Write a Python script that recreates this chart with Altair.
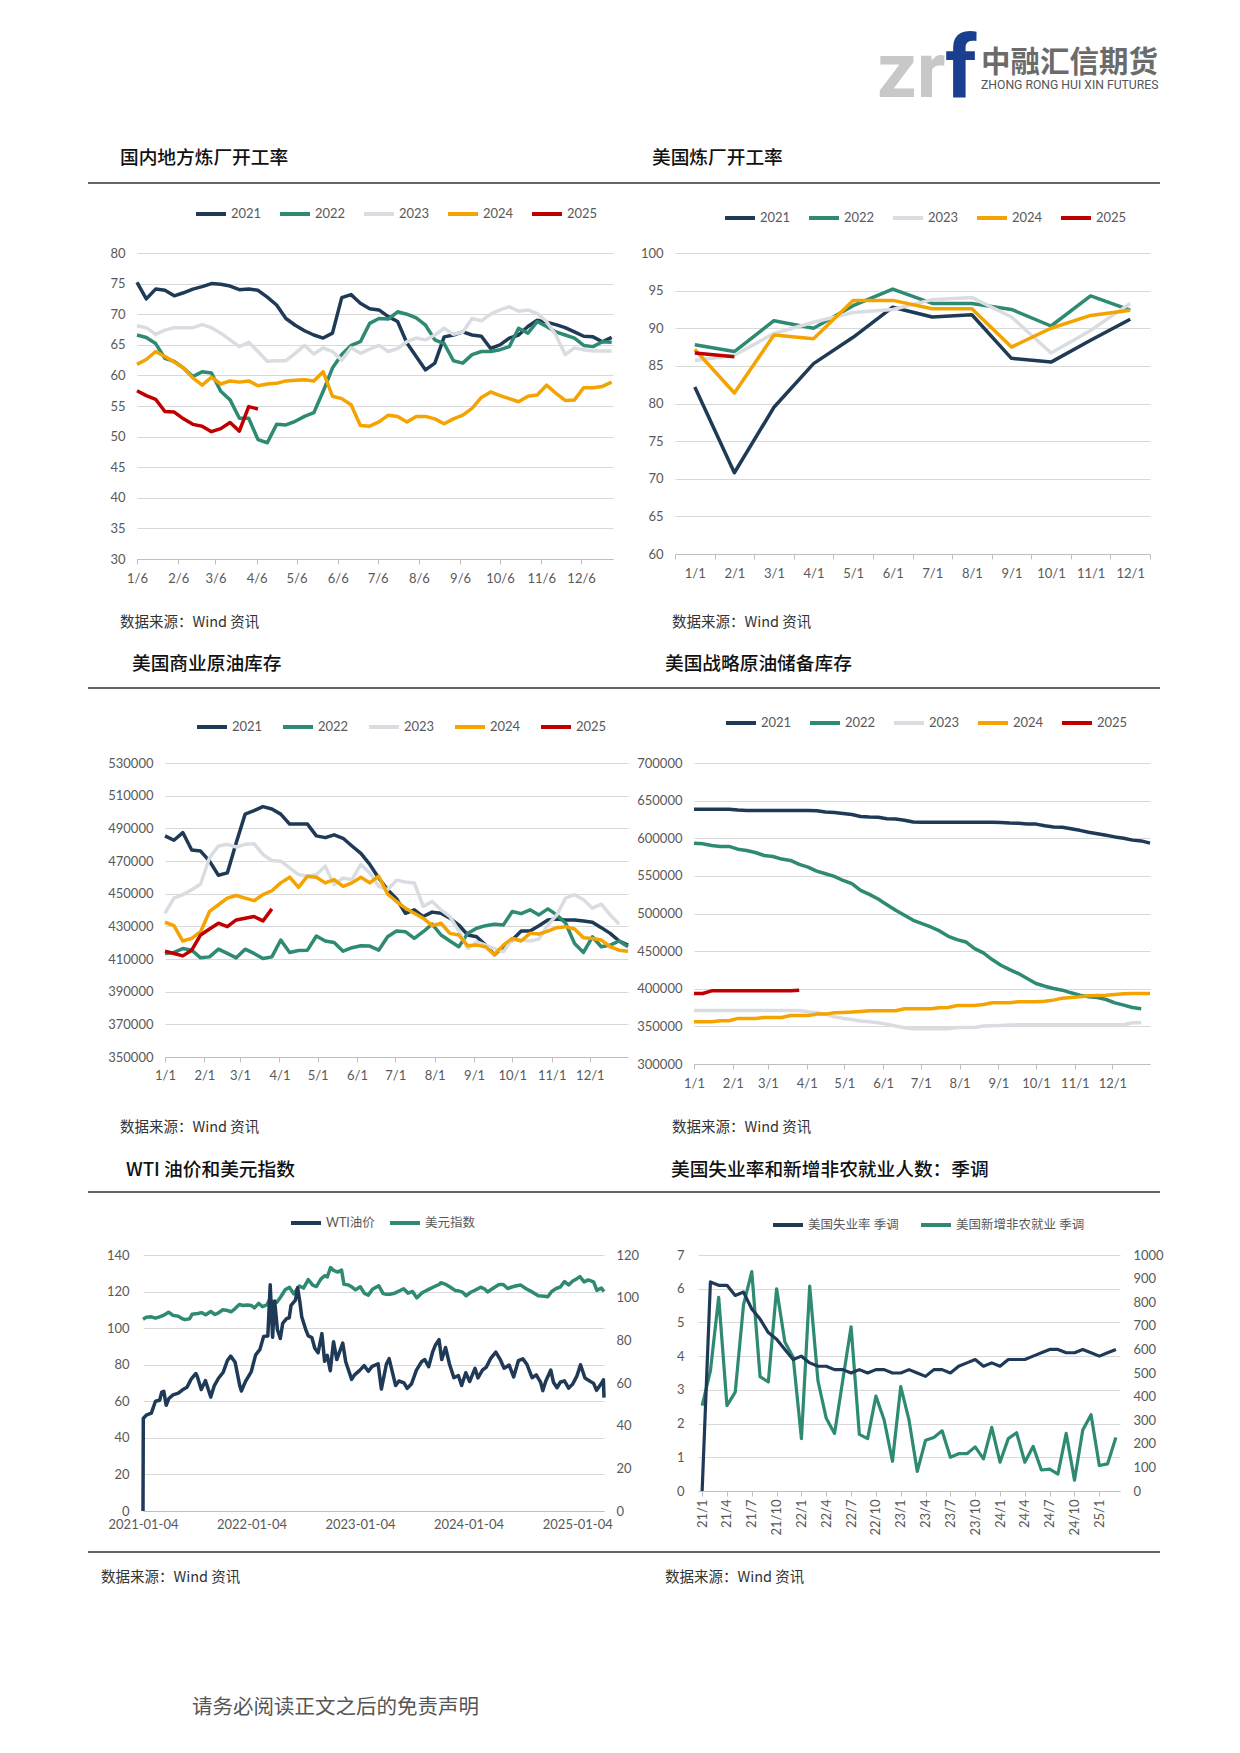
import altair as alt
import pandas as pd

# ---------------- data ----------------
YEARS = ["2021", "2022", "2023", "2024", "2025"]

# 国内地方炼厂开工率 (weekly, from 1/6)
C1_2021 = [75.2, 72.5, 74.1, 73.9, 73.0, 73.5, 74.1, 74.5, 75.0, 74.9, 74.6, 74.0, 74.1, 73.9, 72.8, 71.5, 69.3, 68.2,
           67.3, 66.6, 66.1, 66.9, 72.7, 73.2, 71.8, 70.9, 70.7, 69.6, 68.8, 65.3, 63.1, 60.9, 62.0, 66.3, 66.6, 67.1,
           66.6, 66.4, 64.4, 65.0, 66.1, 66.6, 68.0, 69.0, 68.7, 68.3, 67.8, 67.1, 66.4, 66.3, 65.5, 66.2]
C1_2022 = [66.6, 66.2, 65.2, 62.8, 62.3, 61.2, 59.8, 60.6, 60.4, 57.4, 56.0, 53.0, 53.0, 49.5, 49.0, 52.0, 51.9, 52.5,
           53.3, 53.9, 57.4, 61.2, 63.4, 64.9, 65.5, 68.5, 69.3, 69.2, 70.4, 70.0, 69.4, 68.2, 65.8, 65.2, 62.4, 62.0,
           63.4, 63.9, 63.9, 64.2, 64.7, 67.7, 66.9, 68.8, 68.0, 67.1, 66.6, 66.1, 64.9, 64.7, 65.5, 65.4]
C1_2023 = [68.1, 67.8, 66.7, 67.4, 67.8, 67.8, 67.8, 68.3, 67.8, 66.9, 65.8, 64.7, 65.4, 63.9, 62.3, 62.4, 62.4, 63.6,
           64.9, 63.5, 64.5, 63.9, 62.5, 64.5, 63.6, 64.3, 64.9, 63.9, 64.4, 65.5, 66.1, 65.8, 66.6, 67.7, 66.7, 67.1,
           69.3, 68.9, 70.0, 70.7, 71.2, 70.5, 70.7, 70.1, 68.8, 66.6, 63.4, 64.5, 64.2, 64.0, 64.0, 64.0]
C1_2024 = [61.8, 62.6, 63.9, 63.1, 62.2, 61.2, 59.6, 58.4, 59.7, 58.6, 59.1, 58.9, 59.1, 58.3, 58.6, 58.7, 59.1, 59.2,
           59.3, 59.1, 60.6, 56.6, 56.2, 55.2, 51.8, 51.7, 52.4, 53.5, 53.3, 52.4, 53.3, 53.3, 52.9, 52.1, 52.9, 53.5,
           54.6, 56.4, 57.3, 56.7, 56.2, 55.7, 56.6, 56.8, 58.4, 57.1, 55.9, 56.0, 58.0, 58.0, 58.2, 58.9]
C1_2025 = [57.5, 56.7, 56.1, 54.1, 54.0, 52.9, 52.0, 51.7, 50.8, 51.3, 52.3, 50.9, 54.9, 54.5]
C1_TICKS = [5, 36, 64, 95, 125, 156, 186, 217, 248, 278, 309, 339]
C1_LABELS = ["1/6", "2/6", "3/6", "4/6", "5/6", "6/6", "7/6", "8/6", "9/6", "10/6", "11/6", "12/6"]

# 美国炼厂开工率 (monthly)
C2_MONTHS = ["1/1", "2/1", "3/1", "4/1", "5/1", "6/1", "7/1", "8/1", "9/1", "10/1", "11/1", "12/1"]
C2_2021 = [82.2, 70.8, 79.5, 85.3, 88.8, 92.8, 91.5, 91.8, 86.0, 85.5, 88.4, 91.2]
C2_2022 = [87.8, 86.9, 91.0, 90.0, 93.0, 95.2, 93.3, 93.3, 92.5, 90.3, 94.3, 92.4]
C2_2023 = [85.7, 86.4, 89.3, 90.8, 92.1, 92.5, 93.8, 94.1, 91.5, 86.7, 89.7, 93.3]
C2_2024 = [87.2, 81.4, 89.1, 88.6, 93.7, 93.7, 92.6, 92.6, 87.5, 90.0, 91.7, 92.4]
C2_2025 = [86.7, 86.2]

# 美国商业原油库存 (weekly, thousand barrels /1000)
C3_2021 = [485.4, 482.7, 487.4, 476.7, 476.1, 469.9, 461.3, 462.7, 481.2, 498.7, 500.8, 503.3, 501.8, 498.7, 492.6,
           492.6, 492.6, 485.4, 484.3, 486.0, 483.9, 479.2, 474.7, 467.9, 459.6, 452.4, 446.9, 438.0, 440.1, 436.0,
           438.7, 438.0, 435.0, 430.8, 424.7, 423.6, 418.5, 412.7, 417.5, 421.6, 427.1, 427.1, 430.4, 433.9, 434.5,
           433.9, 433.9, 433.3, 432.5, 429.2, 425.7, 421.0, 418.5]
C3_2022 = [413.4, 414.0, 416.4, 415.4, 410.7, 411.3, 416.0, 413.4, 410.7, 416.0, 413.4, 410.3, 411.3, 421.6, 414.0,
           415.2, 415.4, 424.1, 421.0, 420.1, 414.8, 416.9, 418.1, 417.9, 415.4, 423.6, 427.1, 426.7, 422.6, 426.7,
           431.3, 424.7, 421.0, 417.5, 425.7, 428.8, 430.4, 431.3, 430.8, 439.1, 437.8, 440.1, 437.0, 440.7, 437.0,
           431.9, 419.5, 414.0, 423.6, 417.5, 418.5, 421.0, 417.5]
C3_2023 = [438.0, 447.3, 449.4, 452.4, 455.9, 472.0, 479.2, 480.2, 478.6, 480.2, 480.6, 474.0, 470.3, 469.9, 465.8,
           461.7, 460.7, 461.7, 466.8, 455.5, 459.6, 458.6, 467.9, 462.7, 454.5, 452.4, 458.2, 457.2, 456.6, 442.2,
           445.2, 440.1, 436.0, 427.1, 416.4, 420.5, 418.5, 416.4, 414.4, 422.2, 421.6, 421.0, 422.2, 430.8, 437.0,
           447.3, 449.4, 446.3, 441.1, 443.6, 437.0, 431.3]
C3_2024 = [432.5, 430.4, 421.0, 422.6, 426.7, 439.1, 443.2, 447.3, 448.9, 447.3, 445.7, 449.4, 451.8, 456.6, 460.1,
           453.9, 460.7, 460.1, 456.6, 458.6, 454.5, 456.6, 460.1, 456.6, 460.7, 449.8, 445.2, 441.1, 438.0, 435.0,
           430.4, 431.9, 425.7, 424.7, 418.1, 418.5, 417.5, 412.7, 418.5, 422.6, 421.0, 425.7, 425.3, 427.1, 429.2,
           429.8, 428.4, 423.0, 422.6, 421.6, 417.5, 415.4, 414.8]
C3_2025 = [414.8, 413.4, 411.9, 415.4, 424.7, 428.4, 431.9, 429.8, 433.9, 435.0, 436.0, 433.3, 440.7]

# 美国战略原油储备库存 (weekly, /1000)
C4_2021 = [638.6, 638.6, 638.6, 638.6, 638.6, 637.5, 636.8, 636.8, 636.8, 636.8, 636.8, 636.8, 636.8, 636.8, 636.5,
           634.8, 634.2, 633.0, 631.5, 628.8, 628.2, 628.0, 626.0, 625.5, 624.0, 621.5, 621.3, 621.3, 621.3, 621.3,
           621.3, 621.3, 621.3, 621.3, 621.3, 621.0, 620.2, 619.8, 619.0, 618.8, 616.5, 615.0, 614.7, 612.5, 610.5,
           608.0, 606.0, 604.0, 601.8, 600.0, 597.5, 596.5, 593.5]
C4_2022 = [593.5, 592.6, 590.4, 589.1, 589.1, 585.5, 583.8, 581.1, 577.1, 575.8, 572.3, 570.5, 565.2, 561.7, 556.4,
           552.8, 549.3, 543.9, 539.6, 530.7, 525.4, 519.2, 511.7, 504.2, 497.6, 490.9, 486.5, 482.1, 476.8, 469.7,
           465.3, 462.2, 453.4, 447.6, 438.8, 431.3, 425.5, 420.2, 413.6, 407.0, 403.4, 400.3, 398.1, 394.6, 391.5,
           389.3, 388.4, 385.7, 381.3, 378.2, 375.1, 373.4]
C4_2023 = [371.2, 371.2, 371.2, 371.2, 371.2, 371.2, 371.2, 371.2, 371.2, 371.2, 371.2, 371.2, 371.2, 369.4, 368.1,
           366.3, 362.8, 360.6, 359.2, 357.0, 356.1, 354.8, 353.0, 350.4, 348.2, 346.8, 346.8, 346.8, 346.8, 346.8,
           348.6, 348.6, 348.6, 350.4, 350.8, 351.3, 351.7, 352.2, 352.2, 352.2, 352.2, 352.2, 352.2, 352.2, 352.2,
           352.2, 352.2, 352.2, 352.2, 352.2, 354.8, 354.8]
C4_2024 = [356.1, 356.1, 356.1, 357.5, 357.5, 360.6, 360.6, 360.6, 361.9, 361.9, 361.9, 364.5, 364.5, 364.5, 366.3,
           366.3, 368.1, 368.5, 369.0, 369.8, 370.7, 370.7, 370.7, 370.7, 373.4, 373.4, 373.4, 373.4, 374.7, 375.1,
           377.8, 377.8, 377.8, 379.1, 381.3, 381.3, 381.3, 382.7, 382.7, 382.7, 383.5, 384.9, 387.5, 388.4, 389.3,
           390.6, 391.1, 391.5, 392.4, 393.3, 393.7, 393.7, 393.7]
C4_2025 = [393.7, 393.7, 397.2, 397.2, 397.2, 397.2, 397.2, 397.2, 397.2, 397.2, 397.2, 397.2, 398.1]
MONTH_TICKS = [0, 31, 59, 90, 120, 151, 181, 212, 243, 273, 304, 334]

# WTI油价 / 美元指数
WTI_DATES = ["2021-01-04", "2021-01-05", "2021-01-15", "2021-02-01", "2021-02-15", "2021-03-01", "2021-03-08",
             "2021-03-15", "2021-03-23", "2021-04-01", "2021-04-15", "2021-05-03", "2021-05-17", "2021-06-01",
             "2021-06-15", "2021-07-01", "2021-07-06", "2021-07-19", "2021-08-02", "2021-08-20", "2021-09-01",
             "2021-09-15", "2021-10-01", "2021-10-15", "2021-10-26", "2021-11-10", "2021-11-26", "2021-12-01",
             "2021-12-15", "2022-01-03", "2022-01-18", "2022-02-01", "2022-02-14", "2022-02-28", "2022-03-08",
             "2022-03-16", "2022-03-23", "2022-04-01", "2022-04-11", "2022-04-19", "2022-05-02", "2022-05-11",
             "2022-05-17", "2022-06-01", "2022-06-08", "2022-06-15", "2022-06-22", "2022-07-05", "2022-07-14",
             "2022-07-26", "2022-08-05", "2022-08-16", "2022-08-29", "2022-09-07", "2022-09-16", "2022-09-26",
             "2022-10-07", "2022-10-18", "2022-11-07", "2022-11-17", "2022-12-07", "2022-12-16", "2023-01-03",
             "2023-01-18", "2023-02-01", "2023-02-14", "2023-03-06", "2023-03-17", "2023-04-03", "2023-04-12",
             "2023-05-04", "2023-05-15", "2023-06-01", "2023-06-12", "2023-06-26", "2023-07-13", "2023-07-31",
             "2023-08-10", "2023-08-23", "2023-09-05", "2023-09-15", "2023-09-27", "2023-10-06", "2023-10-19",
             "2023-11-01", "2023-11-16", "2023-12-01", "2023-12-12", "2023-12-26", "2024-01-08", "2024-01-26",
             "2024-02-05", "2024-02-20", "2024-03-04", "2024-03-19", "2024-04-05", "2024-04-19", "2024-05-03",
             "2024-05-20", "2024-06-04", "2024-06-20", "2024-07-05", "2024-07-19", "2024-08-05", "2024-08-19",
             "2024-09-03", "2024-09-10", "2024-09-20", "2024-10-07", "2024-10-16", "2024-10-28", "2024-11-08",
             "2024-11-22", "2024-12-06", "2024-12-20", "2025-01-03", "2025-01-15", "2025-01-30", "2025-02-12",
             "2025-02-28", "2025-03-10", "2025-03-26", "2025-04-02", "2025-04-04"]
WTI_VALUES = [0, 50.6, 52.4, 53.5, 60.0, 60.6, 65.0, 65.4, 57.8, 61.5, 63.5, 64.5, 66.3, 67.7, 72.1, 75.2, 73.4, 66.4,
              71.3, 62.3, 68.6, 72.6, 75.9, 82.3, 84.7, 81.3, 68.2, 65.6, 70.9, 76.1, 85.4, 88.2, 95.5, 95.7, 123.7,
              95.0, 114.9, 99.3, 94.3, 102.6, 105.2, 105.7, 112.4, 115.3, 122.1, 115.3, 106.2, 99.5, 95.8, 94.9, 89.0,
              86.5, 97.0, 81.9, 85.1, 76.7, 92.6, 82.8, 91.8, 81.6, 72.0, 74.3, 76.9, 79.5, 76.4, 79.1, 80.5, 66.7,
              80.4, 83.3, 68.6, 71.1, 70.1, 67.1, 69.4, 77.0, 81.8, 82.8, 78.9, 86.7, 90.8, 93.7, 82.8, 89.4, 80.4,
              72.9, 74.1, 68.6, 75.6, 70.8, 78.0, 72.8, 77.0, 78.7, 83.5, 86.9, 83.1, 78.1, 79.8, 73.3, 82.2, 83.2,
              80.1, 72.9, 74.4, 70.3, 65.8, 71.0, 77.1, 70.4, 67.4, 70.4, 71.2, 67.2, 69.5, 73.9, 80.0, 72.7, 71.4,
              69.8, 66.0, 69.7, 71.7, 62.0]
DXY_DATES = ["2021-01-04", "2021-01-15", "2021-02-01", "2021-02-15", "2021-03-01", "2021-03-15", "2021-03-31",
             "2021-04-15", "2021-05-03", "2021-05-14", "2021-05-25", "2021-06-10", "2021-06-18", "2021-07-07",
             "2021-07-20", "2021-08-03", "2021-08-20", "2021-09-03", "2021-09-15", "2021-09-30", "2021-10-15",
             "2021-10-28", "2021-11-10", "2021-11-24", "2021-12-07", "2021-12-20", "2022-01-04", "2022-01-14",
             "2022-01-28", "2022-02-10", "2022-02-25", "2022-03-07", "2022-03-17", "2022-03-30", "2022-04-12",
             "2022-04-28", "2022-05-12", "2022-05-26", "2022-06-14", "2022-06-28", "2022-07-14", "2022-07-29",
             "2022-08-10", "2022-08-26", "2022-09-07", "2022-09-16", "2022-09-27", "2022-10-07", "2022-10-21",
             "2022-11-03", "2022-11-11", "2022-11-25", "2022-12-07", "2022-12-20", "2023-01-05", "2023-01-19",
             "2023-02-01", "2023-02-15", "2023-03-08", "2023-03-23", "2023-04-03", "2023-04-14", "2023-05-01",
             "2023-05-31", "2023-06-15", "2023-06-30", "2023-07-14", "2023-08-01", "2023-08-25", "2023-09-08",
             "2023-09-28", "2023-10-03", "2023-10-20", "2023-11-03", "2023-11-20", "2023-12-01", "2023-12-15",
             "2023-12-27", "2024-01-10", "2024-01-26", "2024-02-14", "2024-02-28", "2024-03-08", "2024-03-28",
             "2024-04-16", "2024-04-30", "2024-05-15", "2024-05-29", "2024-06-14", "2024-06-28", "2024-07-16",
             "2024-08-05", "2024-08-26", "2024-09-16", "2024-09-27", "2024-10-10", "2024-10-25", "2024-11-08",
             "2024-11-22", "2024-12-06", "2024-12-20", "2025-01-03", "2025-01-13", "2025-01-27", "2025-02-10",
             "2025-02-28", "2025-03-11", "2025-03-26", "2025-04-04"]
DXY_VALUES = [89.9, 90.8, 91.0, 90.4, 91.0, 91.8, 93.2, 91.7, 91.3, 90.3, 89.7, 90.1, 92.2, 92.6, 93.0, 92.0, 93.5,
              92.1, 92.9, 94.3, 94.0, 93.4, 94.9, 96.8, 96.3, 96.6, 96.3, 95.2, 97.3, 95.8, 96.6, 99.3, 97.8, 97.8,
              100.3, 103.8, 104.8, 101.8, 105.5, 104.5, 108.5, 105.9, 105.2, 108.8, 110.3, 109.7, 114.1, 112.8,
              112.0, 112.9, 106.3, 106.0, 105.1, 103.7, 105.1, 102.0, 101.2, 103.9, 105.6, 101.9, 101.6, 101.6,
              102.1, 104.2, 102.1, 102.9, 99.9, 102.3, 104.0, 105.0, 106.2, 107.0, 106.2, 105.0, 103.4, 103.2, 102.6,
              100.9, 102.4, 103.5, 104.9, 104.0, 102.7, 104.5, 106.2, 106.2, 104.3, 105.0, 105.6, 105.9, 104.2,
              102.7, 100.9, 100.7, 100.4, 102.9, 104.3, 105.0, 107.5, 106.0, 107.8, 108.9, 109.9, 107.4, 108.3,
              107.4, 103.4, 104.5, 102.9]
C5_TICKS = ["2021-01-04", "2022-01-04", "2023-01-04", "2024-01-04", "2025-01-04"]

# 美国失业率 / 新增非农 (monthly from 21/1)
UNRATE = [0, 6.2, 6.1, 6.1, 5.8, 5.9, 5.4, 5.1, 4.7, 4.5, 4.2, 3.9, 4.0, 3.8, 3.7, 3.7, 3.6, 3.6, 3.5, 3.6, 3.5, 3.6,
          3.6, 3.5, 3.5, 3.6, 3.5, 3.4, 3.6, 3.6, 3.5, 3.7, 3.8, 3.9, 3.7, 3.8, 3.7, 3.9, 3.9, 3.9, 4.0, 4.1, 4.2,
          4.2, 4.1, 4.1, 4.2, 4.1, 4.0, 4.1, 4.2]
PAYROLL = [362, 509, 821, 362, 419, 789, 930, 485, 462, 857, 631, 567, 222, 868, 466, 308, 244, 470, 696, 240, 222,
           402, 301, 126, 442, 301, 83, 215, 227, 255, 143, 158, 158, 187, 136, 270, 122, 222, 247, 122, 189, 89,
           93, 72, 244, 46, 258, 323, 108, 115, 227]

# ---------------- style ----------------
NAVY = "#1f3a56"
GREEN = "#2e8a72"
LGRAY = "#d9dde2"
ORANGE = "#f5a300"
RED = "#c00000"
YCOL = [NAVY, GREEN, LGRAY, ORANGE, RED]
FONT = "Lato, Noto Sans CJK SC, sans-serif"
CJK = "Noto Sans CJK SC, sans-serif"
LABEL = "#595959"
GRID = "#d9d9d9"
AXC = "#bfbfbf"
RULEC = "#666666"
TSIZE = 18.7
ONE = pd.DataFrame({"a": [0]})


def year_df(xs, series, scale=1.0):
    rows = []
    for yr, vals in zip(YEARS, series):
        for i, v in enumerate(vals):
            rows.append({"d": xs[i], "v": v * scale, "year": yr})
    return pd.DataFrame(rows)


def legend(lx, ly, cp=10, size=13):
    return alt.Legend(orient="none", legendX=lx, legendY=ly, direction="horizontal", title=None,
                      symbolType="stroke", symbolStrokeWidth=4, symbolSize=900, labelFont=FONT,
                      labelFontSize=size, labelColor=LABEL, columnPadding=cp, labelOffset=3)


def y_axis(vals, orient="left", grid=True, fmt=None, pad=12):
    d = dict(values=vals, orient=orient, grid=grid, gridColor=GRID, gridWidth=1, domain=False, ticks=False,
             labelFont=FONT, labelFontSize=13, labelColor=LABEL, labelPadding=pad, title=None)
    if fmt is not None:
        d["format"] = fmt
    return alt.Axis(**d)


def x_axis(vals=None, expr=None, fmt=None, pad=8, angle=0, ticks=True, extra=None):
    d = dict(grid=False, domain=True, domainColor=AXC, ticks=ticks, tickColor=AXC, tickSize=5,
             labelFont=FONT, labelFontSize=13, labelColor=LABEL, labelPadding=pad, labelAngle=angle,
             labelFlush=False, labelOverlap=False, title=None)
    if vals is not None:
        d["values"] = vals
    if expr is not None:
        d["labelExpr"] = expr
    if fmt is not None:
        d["format"] = fmt
    if extra:
        d.update(extra)
    return alt.Axis(**d)


def lookup_expr(ticks, labels):
    lab = ",".join("'" + s + "'" for s in labels)
    tk = ",".join(str(t) for t in ticks)
    return "[" + lab + "][indexof([" + tk + "], datum.value)]"


def text(s, px, py, org, size, color="#111111", font=CJK, weight="normal", baseline="middle", align="left"):
    return alt.Chart(ONE).mark_text(text=s, font=font, fontSize=size, color=color, fontWeight=weight,
                                    baseline=baseline, align=align).encode(
        x=alt.value(px - org[0]), y=alt.value(py - org[1]))


def title(s, px, py, org):
    return text(s, px, py, org, TSIZE, color="#111111", weight=500)


def hline(x1, x2, py, org, color=RULEC, width=2, opacity=1.0):
    return alt.Chart(ONE).mark_rule(color=color, strokeWidth=width, opacity=opacity).encode(
        x=alt.value(x1 - org[0]), x2=alt.value(x2 - org[0]), y=alt.value(py - org[1]))


def spacer(w, h=1):
    return alt.Chart(ONE).mark_point(opacity=0).encode(x=alt.value(0), y=alt.value(0)).properties(width=w, height=h)


SRC = "数据来源：Wind 资讯"
SRCSIZE = 14.5

# ---------------- chart 1 ----------------
O1 = (137, 253)
df1 = year_df([5 + 7 * i for i in range(52)], [C1_2021, C1_2022, C1_2023, C1_2024, C1_2025])
l1 = alt.Chart(df1).mark_line(strokeWidth=3.5, strokeJoin="round").encode(
    x=alt.X("d:Q", scale=alt.Scale(domain=[5, 363], nice=False, zero=False),
            axis=x_axis(vals=C1_TICKS, expr=lookup_expr(C1_TICKS, C1_LABELS))),
    y=alt.Y("v:Q", scale=alt.Scale(domain=[30, 80], nice=False, zero=False), axis=y_axis(list(range(30, 81, 5)))),
    color=alt.Color("year:N", scale=alt.Scale(domain=YEARS, range=YCOL), legend=legend(57, -56)),
)
c1 = alt.layer(
    l1,
    hline(10, 12, 10, O1, opacity=0),
    title("国内地方炼厂开工率", 120, 158, O1),
    title("美国炼厂开工率", 652, 158, O1),
    hline(88, 1160, 183, O1),
    text(SRC, 120, 623, O1, SRCSIZE, color="#333333"),
    text(SRC, 672, 623, O1, SRCSIZE, color="#333333"),
    text("zr", 877, 97, O1, 78, color="#c8c8c8", font="Roboto, sans-serif", weight="bold", baseline="alphabetic"),
    text("f", 945, 97, O1, 88, color="#1b3f8f", font="Roboto, sans-serif", weight="bold", baseline="alphabetic"),
    text("中融汇信期货", 981, 72, O1, 29.5, color="#6b6b6b", weight="bold", baseline="alphabetic"),
    text("ZHONG RONG HUI XIN FUTURES", 981, 89, O1, 12.2, color="#555555", font="Roboto, sans-serif",
         baseline="alphabetic"),
).properties(width=476, height=306)

# ---------------- chart 2 ----------------
O2 = (675, 253)
df2 = year_df(C2_MONTHS, [C2_2021, C2_2022, C2_2023, C2_2024, C2_2025])
c2 = alt.Chart(df2).mark_line(strokeWidth=3.5, strokeJoin="round").encode(
    x=alt.X("d:N", sort=C2_MONTHS, bandPosition=0.5,
            scale=alt.Scale(type="band", domain=C2_MONTHS, paddingInner=0, paddingOuter=0),
            axis=x_axis(extra={"tickBand": "extent"})),
    y=alt.Y("v:Q", scale=alt.Scale(domain=[60, 100], nice=False, zero=False), axis=y_axis(list(range(60, 101, 5)))),
    color=alt.Color("year:N", scale=alt.Scale(domain=YEARS, range=YCOL), legend=legend(48, -52)),
).properties(width=475, height=301)

# ---------------- chart 3 ----------------
O3 = (165, 763)
M_LABELS = [str(m) + "/1" for m in range(1, 13)]
df3 = year_df([7 * i for i in range(53)], [C3_2021, C3_2022, C3_2023, C3_2024, C3_2025], 1000)
l3 = alt.Chart(df3).mark_line(strokeWidth=3.5, strokeJoin="round").encode(
    x=alt.X("d:Q", scale=alt.Scale(domain=[0, 364], nice=False, zero=False),
            axis=x_axis(vals=MONTH_TICKS, expr=lookup_expr(MONTH_TICKS, M_LABELS), pad=7)),
    y=alt.Y("v:Q", scale=alt.Scale(domain=[350000, 530000], nice=False, zero=False),
            axis=y_axis(list(range(350000, 530001, 20000)), fmt="d")),
    color=alt.Color("year:N", scale=alt.Scale(domain=YEARS, range=YCOL), legend=legend(30, -53, cp=12)),
)
c3 = alt.layer(
    l3,
    title("美国商业原油库存", 132, 664, O3),
    title("美国战略原油储备库存", 665, 664, O3),
    hline(88, 1160, 688, O3),
    text(SRC, 120, 1128, O3, SRCSIZE, color="#333333"),
    text(SRC, 672, 1128, O3, SRCSIZE, color="#333333"),
).properties(width=463, height=294)

# ---------------- chart 4 ----------------
O4 = (694, 763)
df4 = year_df([7 * i for i in range(53)], [C4_2021, C4_2022, C4_2023, C4_2024, C4_2025], 1000)
c4 = alt.Chart(df4).mark_line(strokeWidth=3.5, strokeJoin="round").encode(
    x=alt.X("d:Q", scale=alt.Scale(domain=[0, 364], nice=False, zero=False),
            axis=x_axis(vals=MONTH_TICKS, expr=lookup_expr(MONTH_TICKS, M_LABELS), pad=8)),
    y=alt.Y("v:Q", scale=alt.Scale(domain=[300000, 700000], nice=False, zero=False),
            axis=y_axis(list(range(300000, 700001, 50000)), fmt="d")),
    color=alt.Color("year:N", scale=alt.Scale(domain=YEARS, range=YCOL), legend=legend(30, -57)),
).properties(width=456, height=301)

# ---------------- chart 5 ----------------
O5 = (143, 1255)
S5 = ["WTI油价", "美元指数"]
wti = pd.DataFrame({"t": WTI_DATES, "v": WTI_VALUES, "s": S5[0]})
dxy = pd.DataFrame({"t": DXY_DATES, "v": DXY_VALUES, "s": S5[1]})


def dt(s):
    y, m, d = (int(p) for p in s.split("-"))
    return alt.DateTime(year=y, month=m, date=d, utc=True)


x5 = alt.X("t:T", scale=alt.Scale(type="utc", domain=[dt("2021-01-04"), dt("2025-04-04")], nice=False),
           axis=x_axis(vals=[dt(s) for s in C5_TICKS], fmt="%Y-%m-%d", ticks=False, pad=7))
col5 = alt.Color("s:N", scale=alt.Scale(domain=S5, range=[NAVY, GREEN]), legend=legend(146, -49, cp=7, size=12.5))
l5b = alt.Chart(dxy).mark_line(strokeWidth=3.5, strokeJoin="round").encode(
    x=x5,
    y=alt.Y("v:Q", scale=alt.Scale(domain=[0, 120], nice=False), axis=y_axis(list(range(0, 121, 20)), orient="right",
                                                                              grid=False)),
    color=col5,
)
l5a = alt.Chart(wti).mark_line(strokeWidth=3.5, strokeJoin="round").encode(
    x=x5,
    y=alt.Y("v:Q", scale=alt.Scale(domain=[0, 140], nice=False), axis=y_axis(list(range(0, 141, 20)), pad=14)),
    color=col5,
)
c5 = alt.layer(
    l5b, l5a,
    title("WTI 油价和美元指数", 126, 1170, O5),
    title("美国失业率和新增非农就业人数：季调", 671, 1170, O5),
    hline(88, 1160, 1192, O5),
    hline(88, 1160, 1552, O5),
    text(SRC, 101, 1578, O5, SRCSIZE, color="#333333"),
    text(SRC, 665, 1578, O5, SRCSIZE, color="#333333"),
    text("请务必阅读正文之后的免责声明", 192, 1708, O5, 20.5, color="#555555"),
).resolve_scale(y="independent").properties(width=461, height=256)

# ---------------- chart 6 ----------------
S6 = ["美国失业率 季调", "美国新增非农就业 季调"]
df6a = pd.DataFrame({"m": list(range(len(UNRATE))), "v": UNRATE, "s": S6[0]})
df6b = pd.DataFrame({"m": list(range(len(PAYROLL))), "v": PAYROLL, "s": S6[1]})
x6 = alt.X("m:Q", scale=alt.Scale(domain=[-0.5, 50.5], nice=False, zero=False),
           axis=x_axis(vals=list(range(0, 49, 3)), angle=270, pad=3,
                       expr="(21 + floor(datum.value / 12)) + '/' + (datum.value % 12 + 1)"))
col6 = alt.Color("s:N", scale=alt.Scale(domain=S6, range=[NAVY, GREEN]), legend=legend(73, -47, cp=14, size=12.5))
l6b = alt.Chart(df6b).mark_line(strokeWidth=3.2, strokeJoin="round").encode(
    x=x6,
    y=alt.Y("v:Q", scale=alt.Scale(domain=[0, 1000], nice=False),
            axis=y_axis(list(range(0, 1001, 100)), orient="right", grid=False, pad=13, fmt="d")),
    color=col6,
)
l6a = alt.Chart(df6a).mark_line(strokeWidth=3.2, strokeJoin="round").encode(
    x=x6,
    y=alt.Y("v:Q", scale=alt.Scale(domain=[0, 7], nice=False), axis=y_axis(list(range(0, 8)), pad=14)),
    color=col6,
)
c6 = alt.layer(l6b, l6a).resolve_scale(y="independent").properties(width=422, height=236)

# ---------------- page ----------------
# nested flush rows count as zero height, so the vertical spacers carry row height + gap
row1 = alt.hconcat(spacer(7, 306), c1, spacer(62, 306), c2, spacing=0, bounds="flush").resolve_scale(
    color="independent").resolve_legend(color="independent")
row2 = alt.hconcat(spacer(35, 301), c3, spacer(66, 301), c4, spacing=0, bounds="flush").resolve_scale(
    color="independent").resolve_legend(color="independent")
row3 = alt.hconcat(spacer(13, 256), c5, spacer(94, 256), c6, spacing=0, bounds="flush").resolve_scale(
    color="independent").resolve_legend(color="independent")

chart = alt.vconcat(row1, spacer(1, 510), row2, spacer(1, 492), row3, spacing=0, bounds="flush").resolve_scale(
    color="independent").resolve_legend(color="independent").properties(
    padding={"left": 2, "top": 2, "right": 5, "bottom": 5}, background="white"
).configure_view(strokeWidth=0)

chart.save("out.html", embed_options={"renderer": "svg", "actions": False})
